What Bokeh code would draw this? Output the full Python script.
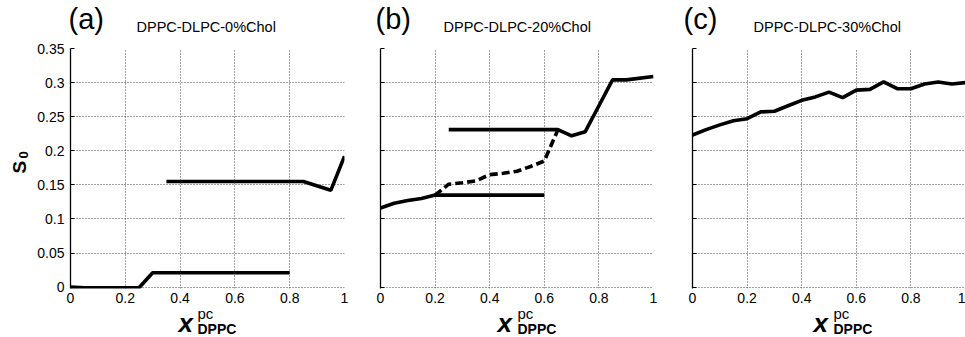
import math
from bokeh.plotting import figure
from bokeh.models import Range1d, FixedTicker, Label
from bokeh.layouts import row, column
from bokeh.embed import file_html
from bokeh.resources import INLINE

# ---------------- data ----------------
# panel (a) DPPC-DLPC-0%Chol
a_low_x = [0.0, 0.05, 0.1, 0.15, 0.2, 0.25, 0.3, 0.8]
a_low_y = [0.0, -0.001, -0.001, -0.001, -0.001, -0.001, 0.021, 0.021]
a_up_x = [0.35, 0.85, 0.95, 1.0]
a_up_y = [0.155, 0.155, 0.142, 0.192]

# panel (b) DPPC-DLPC-20%Chol
b_low_x = [0.0, 0.05, 0.1, 0.15, 0.2, 0.6]
b_low_y = [0.116, 0.123, 0.127, 0.130, 0.135, 0.135]
b_dash_x = [0.2, 0.25, 0.3, 0.35, 0.4, 0.45, 0.5, 0.55, 0.6, 0.65]
b_dash_y = [0.135, 0.151, 0.153, 0.156, 0.165, 0.167, 0.170, 0.177, 0.185, 0.231]
b_up_x = [0.25, 0.65, 0.7, 0.75, 0.8, 0.85, 0.9, 1.0]
b_up_y = [0.231, 0.231, 0.222, 0.228, 0.266, 0.304, 0.304, 0.309]

# panel (c) DPPC-DLPC-30%Chol
c_x = [0.0, 0.05, 0.1, 0.15, 0.2, 0.25, 0.3, 0.35, 0.4, 0.45, 0.5,
       0.55, 0.6, 0.65, 0.7, 0.75, 0.8, 0.85, 0.9, 0.95, 1.0]
c_y = [0.223, 0.231, 0.238, 0.244, 0.247, 0.257, 0.258, 0.266, 0.274, 0.279, 0.286,
       0.278, 0.289, 0.290, 0.301, 0.291, 0.291, 0.298, 0.301, 0.298, 0.300]

x_ticks = [0, 0.2, 0.4, 0.6, 0.8, 1.0]
x_tick_labels = ["0", "0.2", "0.4", "0.6", "0.8", "1"]
y_ticks = [0, 0.05, 0.1, 0.15, 0.2, 0.25, 0.3, 0.35]
y_tick_labels = ["0", "0.05", "0.1", "0.15", "0.2", "0.25", "0.3", "0.35"]

panel_letters = ["(a)", "(b)", "(c)"]
panel_titles = ["DPPC-DLPC-0%Chol", "DPPC-DLPC-20%Chol", "DPPC-DLPC-30%Chol"]
y_label_main, y_label_sub = "S", "0"
x_label_main, x_label_sup, x_label_sub = "x", "pc", "DPPC"

FONT = "Liberation Sans"
W = 965
Y0, Y1 = -0.002, 0.35
FRAME_H = 240
HEADER_H = 38
TOP_B = 10
BOT_B = 21
PANEL_H = TOP_B + FRAME_H + BOT_B
OVERLAP = 10
FOOTER_H = 337 - HEADER_H - PANEL_H + OVERLAP
LEFT_W = 30
PX = FRAME_H / (Y1 - Y0)
FRAME_TOP = HEADER_H + TOP_B


def ypix(py):
    return Y1 - (py - FRAME_TOP) / PX


def bare_fig(w, h, x_range, y_range, top=0, bottom=0, **kw):
    f = figure(width=w, height=h, output_backend="svg", toolbar_location=None,
               x_range=x_range, y_range=y_range,
               x_axis_location=None, y_axis_location=None,
               min_border=0, min_border_left=0, min_border_right=0,
               min_border_top=top, min_border_bottom=bottom, **kw)
    f.outline_line_color = None
    f.grid.visible = False
    return f


def add_text(f, x, y, text, size, style="normal", angle=0.0):
    f.add_layout(Label(x=x, y=y, text=text, angle=angle,
                       text_font=FONT, text_font_size=size, text_font_style=style,
                       text_color="black", text_baseline="bottom", text_align="left"))


def make_panel(width, bl, br, show_ylabels):
    p = figure(width=width, height=PANEL_H, output_backend="svg",
               toolbar_location=None,
               x_range=Range1d(0, 1), y_range=Range1d(Y0, Y1),
               min_border_left=bl, min_border_right=br,
               min_border_top=TOP_B, min_border_bottom=BOT_B)
    p.outline_line_color = None
    for g in (p.xgrid, p.ygrid):
        g.grid_line_color = "#222222"
        g.grid_line_dash = "1 2"
        g.grid_line_width = 1
        g.grid_line_alpha = 0.85
    p.xaxis.ticker = FixedTicker(ticks=x_ticks)
    p.xaxis.major_label_overrides = {t: l for t, l in zip(x_ticks, x_tick_labels)}
    p.yaxis.ticker = FixedTicker(ticks=y_ticks)
    if show_ylabels:
        p.yaxis.major_label_overrides = {t: l for t, l in zip(y_ticks, y_tick_labels)}
    else:
        p.yaxis.major_label_overrides = {t: "" for t in y_ticks}
    p.xgrid.ticker = FixedTicker(ticks=x_ticks)
    p.ygrid.ticker = FixedTicker(ticks=y_ticks)
    for ax in (p.xaxis, p.yaxis):
        ax.minor_tick_line_color = None
        ax.major_tick_in = 4
        ax.major_tick_out = 0
        ax.major_label_text_font = FONT
        ax.major_label_text_font_size = "14px"
        ax.major_label_text_color = "black"
    p.xaxis.axis_line_color = None
    p.xaxis.major_tick_line_color = None
    p.xaxis.major_label_standoff = 4
    p.yaxis.axis_line_color = "black"
    p.yaxis.axis_line_width = 1.3
    p.yaxis.major_tick_line_color = "black"
    p.yaxis.major_label_standoff = 6
    return p


pa = make_panel(362 - LEFT_W, 70 - LEFT_W, 18, True)
pb = make_panel(314, 18, 23, False)
pc = make_panel(289, 16, 0, False)

LW = 3.6
pa.line(a_low_x, a_low_y, line_color="black", line_width=LW)
pa.line(a_up_x, a_up_y, line_color="black", line_width=LW)

pb.line(b_low_x, b_low_y, line_color="black", line_width=LW)
pb.line(b_dash_x, b_dash_y, line_color="black", line_width=LW, line_dash="8 4")
pb.line(b_up_x, b_up_y, line_color="black", line_width=LW)

pc.line(c_x, c_y, line_color="black", line_width=LW)

# header: panel letters and titles (canvas pixel positions)
header = bare_fig(W, HEADER_H, Range1d(0, W), Range1d(0, HEADER_H))
letter_x = [68, 375, 683]
title_x = [136, 443, 753]
for i in range(3):
    add_text(header, letter_x[i], HEADER_H - 34, panel_letters[i], "29px")
    add_text(header, title_x[i], HEADER_H - 34, panel_titles[i], "14.5px")

# footer: x-axis labels x^pc_DPPC (transparent, slightly overlapping the panels' tick area)
footer = bare_fig(W, FOOTER_H, Range1d(0, W), Range1d(0, FOOTER_H),
                  styles={"margin-top": "-%dpx" % OVERLAP})
footer.background_fill_color = None
footer.border_fill_color = None
xlab_x = [178, 497, 813]
xsup_x = [197, 517, 833]
for i in range(3):
    add_text(footer, xlab_x[i], 337 - 337, x_label_main, "26px", style="bold italic")
    add_text(footer, xsup_x[i], 337 - 321, x_label_sup, "15px")
    add_text(footer, xsup_x[i], 337 - 336, x_label_sub, "14px", style="bold")

# left: rotated y label S0
left = bare_fig(LEFT_W, PANEL_H, Range1d(0, LEFT_W), Range1d(Y0, Y1), top=TOP_B, bottom=BOT_B)
add_text(left, 29, ypix(173), y_label_main, "19px", style="bold", angle=math.pi / 2)
add_text(left, 27.5, ypix(158), y_label_sub, "13px", style="bold", angle=math.pi / 2)

layout = column(header, row(left, pa, pb, pc, spacing=0), footer, spacing=0)
open("out.html", "w").write(file_html(layout, INLINE))
